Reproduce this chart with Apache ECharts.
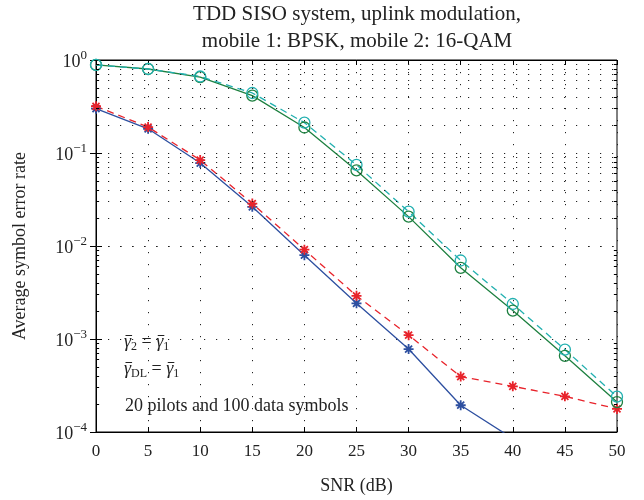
<!DOCTYPE html>
<html>
<head>
<meta charset="utf-8">
<script src="https://cdn.jsdelivr.net/npm/echarts@6/dist/echarts.min.js"></script>
<style>
    html, body { margin: 0; padding: 0; background: #fff; }
    #chart { width: 644px; height: 500px; }
</style>
</head>
<body>
<div id="chart"></div>
<script>
// SNR (dB)
const snr = [0, 5, 10, 15, 20, 25, 30, 35, 40, 45, 50];
// mobile 2 (16-QAM)
const qamSolid = [0.885, 0.80, 0.655, 0.414, 0.188, 0.065, 0.0207, 0.00583, 0.00202, 0.00066, 0.00021];
const qamDashed = [0.885, 0.80, 0.665, 0.442, 0.212, 0.0745, 0.0234, 0.00698, 0.00238, 0.00077, 0.00024];
// mobile 1 (BPSK)
const bpskSolid = [0.30, 0.182, 0.078, 0.0264, 0.00796, 0.00242, 0.00078, 0.000194, 0.000085];
const bpskDashed = [0.318, 0.19, 0.084, 0.0286, 0.00914, 0.00291, 0.0011, 0.000394, 0.00031, 0.000242, 0.000177];
// minor log grid values
const minorY = [];
[1e-4, 1e-3, 1e-2, 1e-1].forEach(d => {
    for (let k = 2; k <= 9; k++) minorY.push(+(k * d).toPrecision(3));
});

const serif = '"Liberation Serif", "DejaVu Serif", serif';
const dotted = { type: [1.2, 10.8], color: '#222', width: 1 };

const pairs = arr => arr.map((v, i) => [snr[i], v]);
const asterisk = 'path://M0,-1L0,1M-1,0L1,0M-0.7,-0.7L0.7,0.7M-0.7,0.7L0.7,-0.7';

// minor grid lines and minor ticks on the left and right edges
let minorLines = minorY.map(v => ({ yAxis: v }));
let minorTicks = [];
minorY.forEach(v => {
    minorTicks.push([{ coord: [0, v] }, { coord: [0.3, v] }]);
    minorTicks.push([{ coord: [49.7, v] }, { coord: [50, v] }]);
});

// 带上划线和下标的公式文字，cy 为文字中线
const measureCtx = document.createElement('canvas').getContext('2d');
function mathText(x, cy, parts) {
    let els = [];
    let cx = x;
    parts.forEach(p => {
        let size = p.sub ? 12 : 18;
        let font = (p.italic ? 'italic ' : '') + size + 'px ' + serif;
        measureCtx.font = font;
        let w = measureCtx.measureText(p.t).width;
        els.push({
            type: 'text', x: cx, y: p.sub ? cy + 5 : cy, silent: true,
            style: { text: p.t, font: font, fill: '#222', align: 'left', verticalAlign: 'middle' }
        });
        if (p.bar) {
            els.push({
                type: 'line', silent: true,
                shape: { x1: cx + 1.5, y1: cy - 6.5, x2: cx + w + 1, y2: cy - 6.5 },
                style: { stroke: '#222', lineWidth: 1 }
            });
        }
        cx += w;
    });
    return els;
}

const chart = echarts.init(document.getElementById('chart'));
const option = {
    animation: false,
    backgroundColor: '#fff',
    title: {
        text: 'TDD SISO system, uplink modulation,\nmobile 1: BPSK, mobile 2: 16-QAM',
        left: 357,
        top: 1,
        padding: 0,
        textAlign: 'center',
        textStyle: { fontFamily: serif, fontSize: 21, fontWeight: 'normal', color: '#222', lineHeight: 27 }
    },
    grid: { left: 96, right: 27, top: 60, bottom: 64, show: true, borderColor: '#000', borderWidth: 1 },
    xAxis: [{
        type: 'value', min: 0, max: 50, interval: 5,
        name: 'SNR (dB)', nameLocation: 'middle', nameGap: 45,
        nameTextStyle: { fontFamily: serif, fontSize: 18, color: '#222' },
        axisLine: { lineStyle: { color: '#000' } },
        axisTick: { inside: true, length: 5, lineStyle: { color: '#000' } },
        axisLabel: { fontFamily: serif, fontSize: 17, color: '#222', margin: 11 },
        splitLine: { show: true, lineStyle: dotted }
    }, {
        type: 'value', min: 0, max: 50, interval: 5, position: 'top',
        axisLine: { lineStyle: { color: '#000' } },
        axisTick: { inside: true, length: 5, lineStyle: { color: '#000' } },
        axisLabel: { show: false }, splitLine: { show: false }
    }],
    yAxis: [{
        type: 'log', min: 1e-4, max: 1, logBase: 10,
        name: 'Average symbol error rate', nameLocation: 'middle', nameGap: 67,
        nameTextStyle: { fontFamily: serif, fontSize: 18, color: '#222' },
        axisLine: { lineStyle: { color: '#000' } },
        axisTick: { inside: true, length: 6, lineStyle: { color: '#000' } },
        axisLabel: {
            margin: 9,
            formatter: v => {
                const e = Math.round(Math.log10(v));
                return '{b|10}{s|' + (e < 0 ? '\u2212' + (-e) : e) + '}';
            },
            rich: {
                b: { fontFamily: serif, fontSize: 18, color: '#222', lineHeight: 22, verticalAlign: 'bottom' },
                s: { fontFamily: serif, fontSize: 13, color: '#222', lineHeight: 12, verticalAlign: 'top' }
            }
        },
        splitLine: { show: true, lineStyle: dotted }
    }, {
        type: 'log', min: 1e-4, max: 1, logBase: 10, position: 'right',
        axisLine: { lineStyle: { color: '#000' } },
        axisTick: { inside: true, length: 6, lineStyle: { color: '#000' } },
        axisLabel: { show: false }, splitLine: { show: false }
    }],
    graphic: [].concat(
        mathText(124, 342, [
            { t: '\u03b3', italic: true, bar: true }, { t: '2', sub: true },
            { t: ' = ' }, { t: '\u03b3', italic: true, bar: true }, { t: '1', sub: true }
        ]),
        mathText(124, 369, [
            { t: '\u03b3', italic: true, bar: true }, { t: 'DL', sub: true },
            { t: ' = ' }, { t: '\u03b3', italic: true, bar: true }, { t: '1', sub: true }
        ]),
        [{
            type: 'text', left: 125, top: 397, silent: true,
            style: { text: '20 pilots and 100 data symbols', font: '18px ' + serif, fill: '#222' }
        }]
    ),
    series: [{
        name: 'grid', type: 'line', data: [], silent: true,
        markLine: {
            silent: true, symbol: 'none', label: { show: false },
            lineStyle: dotted, emphasis: { disabled: true },
            data: minorLines
        }
    }, {
        name: 'ticks', type: 'line', data: [], silent: true,
        markLine: {
            silent: true, symbol: 'none', label: { show: false },
            lineStyle: { type: 'solid', color: '#000', width: 1 }, emphasis: { disabled: true },
            data: minorTicks
        }
    }, {
        name: 'BPSK solid', type: 'line', data: pairs(bpskSolid),
        symbol: asterisk, symbolSize: 10, symbolKeepAspect: true,
        lineStyle: { color: '#2d4fa0', width: 1.3 },
        itemStyle: { color: '#2d4fa0', borderColor: '#2d4fa0', borderWidth: 1.8 }
    }, {
        name: 'BPSK dashed', type: 'line', data: pairs(bpskDashed),
        symbol: asterisk, symbolSize: 10, symbolKeepAspect: true,
        lineStyle: { color: '#e8232b', width: 1.3, type: [7, 5] },
        itemStyle: { color: '#e8232b', borderColor: '#e8232b', borderWidth: 1.8 }
    }, {
        name: '16-QAM solid', type: 'line', data: pairs(qamSolid),
        symbol: 'circle', symbolSize: 11,
        lineStyle: { color: '#1e8040', width: 1.3 },
        itemStyle: { color: 'transparent', borderColor: '#1e8040', borderWidth: 1.3 }
    }, {
        name: '16-QAM dashed', type: 'line', data: pairs(qamDashed),
        symbol: 'circle', symbolSize: 11,
        lineStyle: { color: '#22b0b0', width: 1.3, type: [7, 5] },
        itemStyle: { color: 'transparent', borderColor: '#22b0b0', borderWidth: 1.3 }
    }]
};
chart.setOption(option);
</script>
</body>
</html>
